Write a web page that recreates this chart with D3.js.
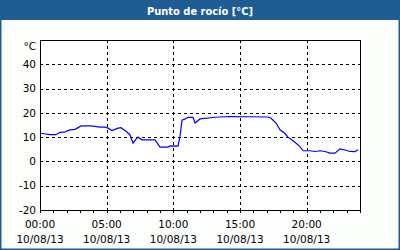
<!DOCTYPE html>
<html>
<head>
<meta charset="utf-8">
<script src="https://cdn.jsdelivr.net/npm/d3@7"></script>
<style>
  html, body { margin: 0; padding: 0; background: #fff; }
  svg { display: block; }
</style>
</head>
<body>
<script>
const TITLE = "Punto de rocío [°C]";
const UNIT = "°C";
const DATE_LABEL = "10/08/13";

// hours since 00:00 and dew point readings (°C)
const hours = [
  0, 0.3, 0.75, 1.2, 1.5, 1.88, 2.25, 2.63, 3.08, 3.83, 4.5, 4.88, 5.1, 5.4,
  5.85, 6.07, 6.38, 6.75, 6.98, 7.2, 7.35, 7.63, 8.63, 9.0, 9.6, 9.75, 10.35,
  10.5, 10.65, 10.88, 11.1, 11.48, 11.63, 12.0, 13.13, 14.25, 17.1, 17.33,
  17.7, 18.0, 18.35, 18.6, 19.1, 19.48, 19.73, 20.25, 20.63, 21.0, 21.38,
  21.75, 22.13, 22.5, 22.88, 23.25, 23.63, 23.85
];
const dewPoint = [
  11.6, 11.4, 11.0, 11.0, 12.0, 12.2, 13.0, 13.2, 14.6, 14.6, 14.1, 14.1, 13.7,
  12.7, 13.7, 13.9, 12.7, 11.0, 7.5, 9.2, 10.0, 8.9, 8.9, 5.9, 5.9, 6.4, 6.3,
  10.3, 17.0, 17.5, 18.1, 18.1, 15.8, 17.5, 18.2, 18.5, 18.3, 17.8, 15.8, 13.0,
  11.6, 10.0, 8.0, 6.2, 4.4, 4.4, 4.1, 4.4, 4.1, 3.4, 3.4, 5.2, 4.7, 4.1, 4.0, 4.9
];
const yTicks = [-20, -10, 0, 10, 20, 30, 40];
const xTicks = [0, 5, 10, 15, 20];
const xTickLabels = ["00:00", "05:00", "10:00", "15:00", "20:00"];

const width = 400, height = 250;
const margin = {top: 40, right: 40, bottom: 40, left: 40};
const innerWidth = width - margin.left - margin.right;
const innerHeight = height - margin.top - margin.bottom;

const x = d3.scaleLinear().domain([0, 24]).range([0, innerWidth]);
const y = d3.scaleLinear().domain([-20, 50]).range([innerHeight, 0]);

const svg = d3.select("body").append("svg")
  .attr("width", width)
  .attr("height", height)
  .style("font-family", "'DejaVu Sans', sans-serif");

// frame + title bar
svg.append("rect")
  .attr("x", 0.5).attr("y", 0.5)
  .attr("width", width - 1).attr("height", height - 1)
  .attr("fill", "#fcfefc")
  .attr("stroke", "#1f5c94")
  .attr("stroke-width", 2);
svg.append("rect")
  .attr("x", 0).attr("y", 0)
  .attr("width", width).attr("height", 20)
  .attr("fill", "#1f5c94");
svg.append("text")
  .attr("x", width / 2).attr("y", 14.5)
  .attr("text-anchor", "middle")
  .attr("fill", "#fff")
  .attr("font-weight", "bold")
  .attr("font-size", 11)
  .style("font-family", "'DejaVu Sans Condensed', 'DejaVu Sans', sans-serif")
  .text(TITLE);

const g = svg.append("g").attr("transform", `translate(${margin.left},${margin.top})`);

g.append("rect")
  .attr("width", innerWidth).attr("height", innerHeight)
  .attr("fill", "#fff");

// grid
g.append("g")
  .selectAll("line")
  .data(yTicks.filter((d) => d > -20))
  .join("line")
  .attr("x1", 0).attr("x2", innerWidth)
  .attr("y1", (d) => Math.round(y(d)) + 0.5)
  .attr("y2", (d) => Math.round(y(d)) + 0.5)
  .attr("stroke", "#000")
  .attr("stroke-dasharray", "3,3")
  .attr("shape-rendering", "crispEdges");

g.append("g")
  .selectAll("line")
  .data(xTicks.filter((d) => d > 0))
  .join("line")
  .attr("x1", (d) => Math.round(x(d)) + 0.5)
  .attr("x2", (d) => Math.round(x(d)) + 0.5)
  .attr("y1", 0).attr("y2", innerHeight)
  .attr("stroke", "#000")
  .attr("stroke-dasharray", "3,3")
  .attr("shape-rendering", "crispEdges");

// hourly ticks on the bottom axis
g.append("g")
  .attr("transform", `translate(0,${innerHeight})`)
  .call(d3.axisBottom(x).tickValues(d3.range(0, 25)).tickSize(3).tickFormat(""))
  .call((axis) => axis.select(".domain").remove())
  .call((axis) => axis.selectAll("line").attr("stroke", "#000").attr("shape-rendering", "crispEdges"));

// plot border
g.append("rect")
  .attr("x", 0.5).attr("y", 0.5)
  .attr("width", innerWidth).attr("height", innerHeight)
  .attr("fill", "none")
  .attr("stroke", "#000")
  .attr("shape-rendering", "crispEdges");

// y labels
g.append("g")
  .selectAll("text")
  .data(yTicks)
  .join("text")
  .attr("x", -4)
  .attr("y", (d) => y(d))
  .attr("dy", "0.35em")
  .attr("text-anchor", "end")
  .attr("font-size", 10.5)
  .attr("fill", "#000")
  .text((d) => d);

g.append("text")
  .attr("x", -4)
  .attr("y", y(50) + 6)
  .attr("dy", "0.35em")
  .attr("text-anchor", "end")
  .attr("font-size", 10.5)
  .text(UNIT);

// x labels
const xl = g.append("g")
  .selectAll("g")
  .data(xTicks)
  .join("g")
  .attr("transform", (d) => `translate(${x(d)},${innerHeight})`);
xl.append("text")
  .attr("y", 18)
  .attr("text-anchor", "middle")
  .attr("font-size", 10.5)
  .text((d, i) => xTickLabels[i]);
xl.append("text")
  .attr("y", 33)
  .attr("text-anchor", "middle")
  .attr("font-size", 10.5)
  .text(DATE_LABEL);

// dew point line
const series = hours.map((h, i) => ({h, v: dewPoint[i]}));
g.append("path")
  .datum(series)
  .attr("fill", "none")
  .attr("stroke", "#0000ff")
  .attr("stroke-width", 1.2)
  .attr("d", d3.line().x((d) => x(d.h)).y((d) => y(d.v)));
</script>
</body>
</html>
